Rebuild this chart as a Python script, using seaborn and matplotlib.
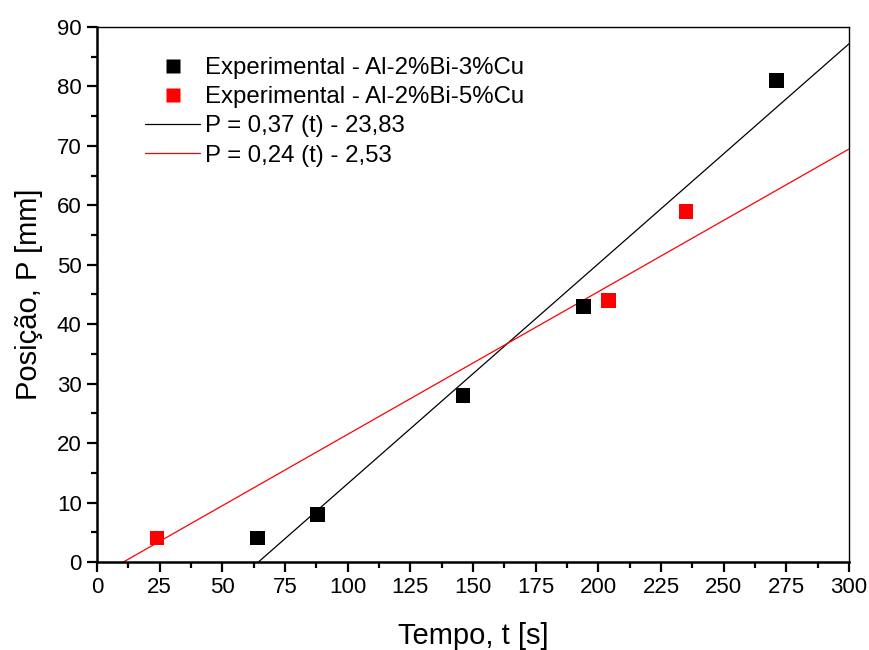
import numpy as np
import pandas as pd
import matplotlib.pyplot as plt
import seaborn as sns
from matplotlib.ticker import MultipleLocator

# experimental points
t_3cu = [64, 88, 146, 194, 271]
p_3cu = [4, 8, 28, 43, 81]
t_5cu = [24, 204, 235]
p_5cu = [4, 44, 59]

# fitted lines P = a*t + b
fit_labels = ["P = 0,37 (t) - 23,83", "P = 0,24 (t) - 2,53"]
fit_slopes = [0.37, 0.24]
fit_intercepts = [-23.83, -2.53]
fit_colors = ["black", "red"]
t_range = [0, 300]

sns.set_style("ticks")
plt.rcParams['font.family'] = ['Liberation Sans', 'DejaVu Sans']
plt.rcParams.update({"text.color": "black", "axes.labelcolor": "black",
                     "xtick.color": "black", "ytick.color": "black",
                     "axes.edgecolor": "black"})

fig = plt.figure(figsize=(8.69, 6.5), dpi=100)
ax = fig.add_axes([0.1116, 0.1354, 0.8654, 0.8231])

pts = pd.concat([
    pd.DataFrame({"t": t_3cu, "P": p_3cu, "serie": "Experimental - Al-2%Bi-3%Cu"}),
    pd.DataFrame({"t": t_5cu, "P": p_5cu, "serie": "Experimental - Al-2%Bi-5%Cu"}),
])
sns.scatterplot(data=pts, x="t", y="P", hue="serie", palette=["black", "red"],
                marker="s", s=110, edgecolor="none", ax=ax, zorder=3)

for lab, a, b, c in zip(fit_labels, fit_slopes, fit_intercepts, fit_colors):
    tt = np.array(t_range, dtype=float)
    sns.lineplot(x=tt, y=a * tt + b, color=c, lw=0.9, label=lab, ax=ax)

ax.set_xlim(0, 300)
ax.set_ylim(0, 90)
ax.xaxis.set_major_locator(MultipleLocator(25))
ax.xaxis.set_minor_locator(MultipleLocator(12.5))
ax.yaxis.set_major_locator(MultipleLocator(10))
ax.yaxis.set_minor_locator(MultipleLocator(5))
ax.tick_params(which="major", direction="out", length=7, width=1.6, labelsize=16, pad=4)
ax.tick_params(which="minor", direction="out", length=4, width=1.6)
for side in ["left", "bottom"]:
    ax.spines[side].set_linewidth(1.8)
for side in ["top", "right"]:
    ax.spines[side].set_visible(True)
    ax.spines[side].set_linewidth(1.0)

ax.set_xlabel("Tempo, t [s]", fontsize=21, labelpad=17)
ax.set_ylabel("Posição, P [mm]", fontsize=21, labelpad=10)

leg = ax.legend(loc="upper left", bbox_to_anchor=(0.064, 0.944), frameon=False,
                borderpad=0, borderaxespad=0,
                fontsize=17.3, handlelength=2.3, handletextpad=0.2, labelspacing=0.3,
                markerscale=1.0)

fig.savefig("out.png", dpi=100)
